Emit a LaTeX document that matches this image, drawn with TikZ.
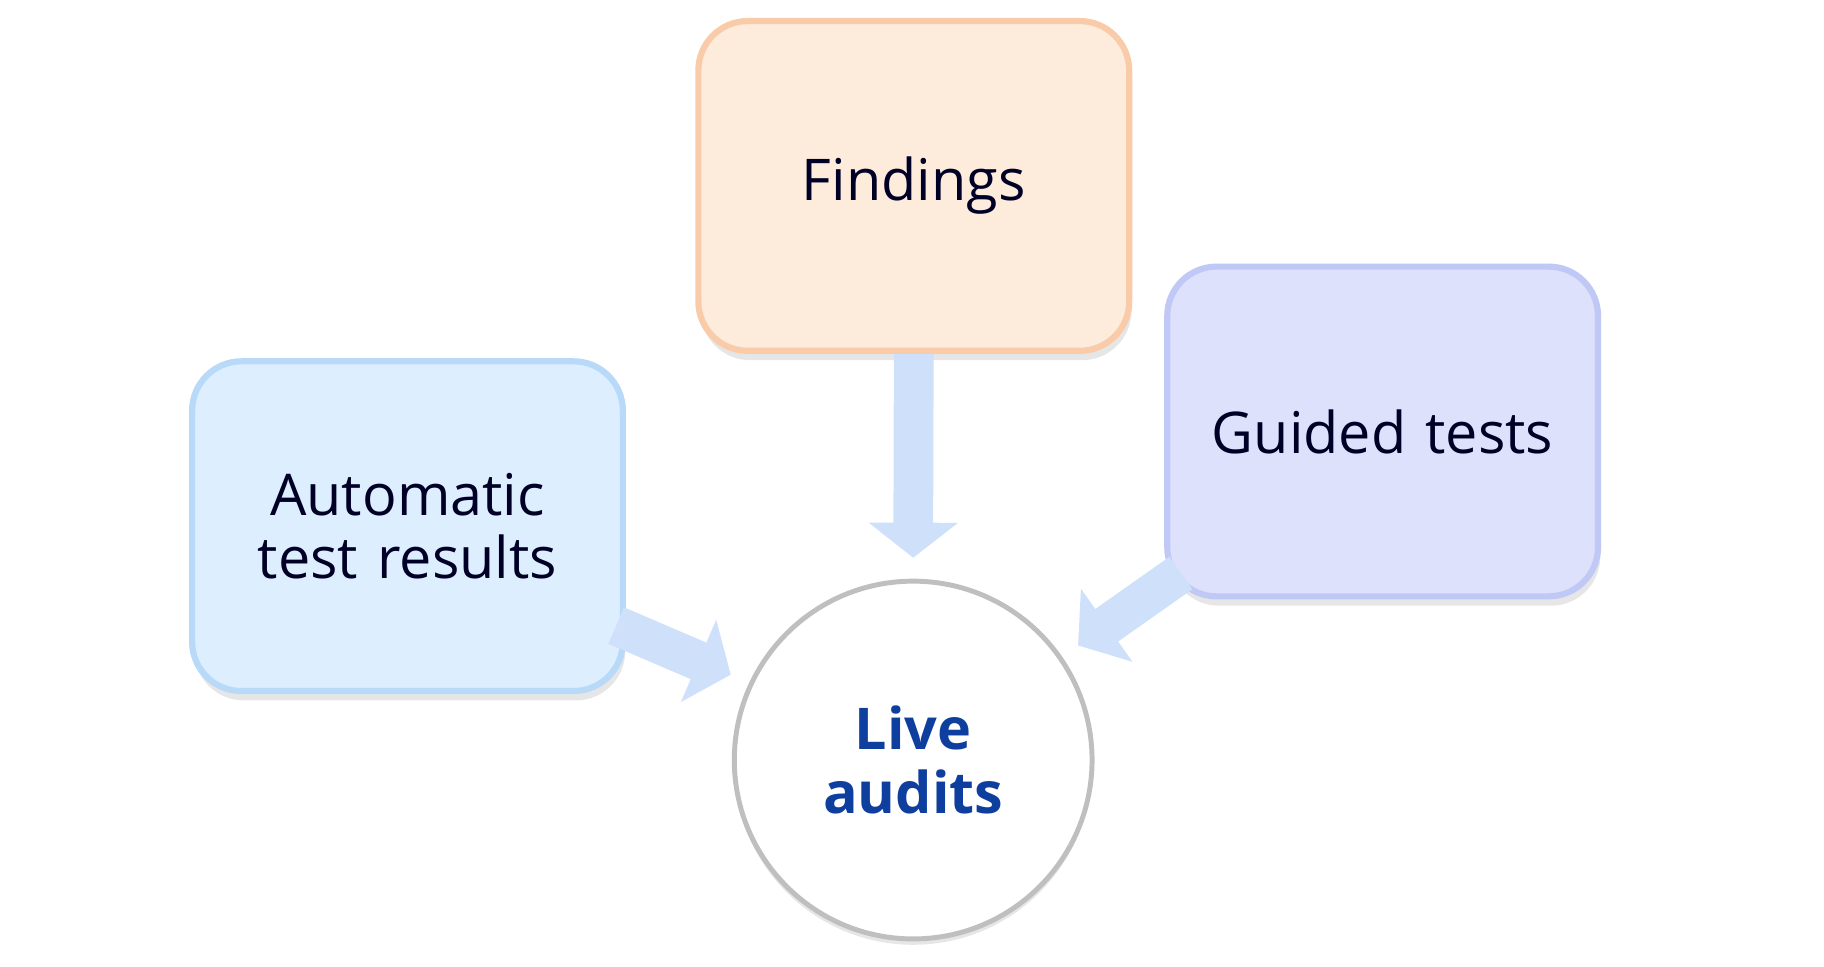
\documentclass[tikz,border=0pt]{standalone}
\usepackage{fontspec}
\setmainfont{Open Sans}
\usetikzlibrary{arrows.meta,shadows,positioning}
\definecolor{findfill}{HTML}{FDEBDC}
\definecolor{finddraw}{HTML}{F9CBA8}
\definecolor{autofill}{HTML}{DDEEFF}
\definecolor{autodraw}{HTML}{B8D9F8}
\definecolor{guidfill}{HTML}{DDE1FC}
\definecolor{guiddraw}{HTML}{C0C8F5}
\definecolor{flowblue}{HTML}{CFE0FA}
\definecolor{livetext}{HTML}{0F3F9E}
\tikzset{box/.style={rectangle, rounded corners=12pt, line width=1.5pt, minimum width=3.53cm, minimum height=2.82cm, text width=3.45cm, align=center, font=\fontsize{14}{15.5}\selectfont, text=black!85!blue, drop shadow={opacity=0.2, shadow xshift=0.02cm, shadow yshift=-0.08cm}},
  flow/.style={flowblue, line width=0.34cm, -{Triangle[width=0.75cm, length=0.3cm]}}}
\begin{document}
\begin{tikzpicture}
    \useasboundingbox (0,0) rectangle (15.6,-8.27);
    \node[box, fill=findfill, draw=finddraw] (find) at (7.815,-1.59) {Findings};
    \node[box, fill=autofill, draw=autodraw] (auto) at (3.485,-4.5) {Automatic test results};
    \node[box, fill=guidfill, draw=guiddraw] (guid) at (11.825,-3.69) {Guided tests};
    \node[circle, draw=black!25, line width=1.2pt, fill=white, minimum size=3.06cm, align=center, text=livetext, font=\fontsize{14}{15.5}\selectfont\bfseries, drop shadow={opacity=0.2, shadow xshift=0cm, shadow yshift=-0.05cm}] (live) at (7.81,-6.5) {Live\\audits};
    \coordinate (findend) at (7.81,-4.77);
    \coordinate (autobeg) at (5.27,-5.35);
    \coordinate (autoend) at (6.25,-5.77);
    \coordinate (guidbeg) at (10.1,-4.9);
    \coordinate (guidend) at (9.22,-5.52);
    \draw[flow] (find.south) -- (findend);
    \draw[flow] (autobeg) -- (autoend);
    \draw[flow] (guidbeg) -- (guidend);
\end{tikzpicture}
\end{document}
